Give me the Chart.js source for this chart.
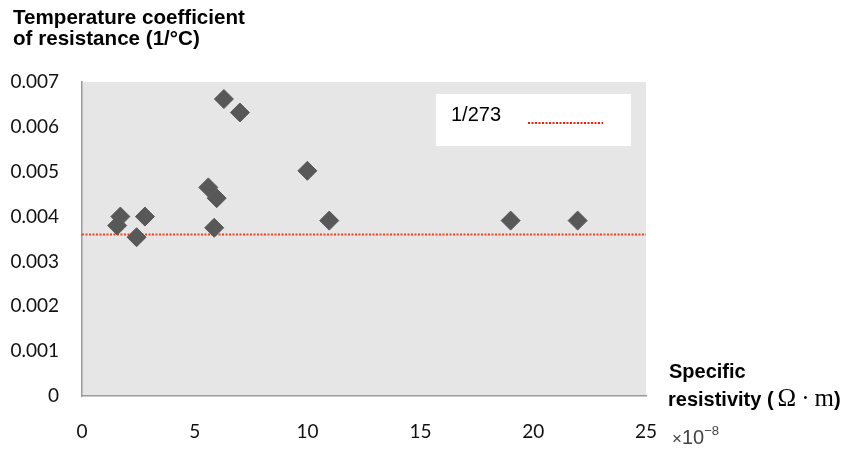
<!DOCTYPE html>
<html>
<head>
<meta charset="utf-8">
<script src="https://cdn.jsdelivr.net/npm/chart.js@4/dist/chart.umd.min.js"></script>
<style>
    body { margin: 0; background: #fff; }
    #wrap { position: relative; width: 855px; height: 450px; }
    .ttl { position: absolute; font-family: "Liberation Sans", Arial, sans-serif; font-weight: bold; font-size: 20px; color: #000; white-space: nowrap; }
    .serif { font-family: "Liberation Serif", "Times New Roman", serif; font-weight: normal; font-size: 25px; }
    #scale { position: absolute; left: 672px; top: 426px; line-height: 23px; font-family: "Liberation Sans", Arial, sans-serif; font-size: 20px; color: #444; white-space: nowrap; }
    #scale .x { font-size: 17px; }
    #scale .e { position: relative; top: -9px; font-size: 13px; }
</style>
</head>
<body>
<div id="wrap">
    <canvas id="chart" width="855" height="450"></canvas>
    <div class="ttl" style="left:13px; top:6px; line-height:21px; font-size:20.6px;">Temperature coefficient<br>of resistance (1/°C)</div>
    <div class="ttl" style="left:669px; top:360px;">Specific</div>
    <div class="ttl" style="left:668px; top:384px;">resistivity (&thinsp;<span class="serif">Ω&thinsp;·&thinsp;m</span>)</div>
    <div id="scale"><span class="x">×</span>10<span class="e">−8</span></div>
</div>
<script>
// values (x in 10^-8 Ω·m, y in 1/°C)
const resistivity = [1.56, 1.7, 2.42, 2.79, 5.6, 5.86, 5.97, 6.29, 7.0, 9.99, 10.96, 19.0, 21.97];
const coefficient = [0.0038, 0.0040, 0.00354, 0.0040, 0.00465, 0.00375, 0.00441, 0.00662, 0.00632, 0.00502, 0.00391, 0.00391, 0.00391];
const refLabel = '1/273';
const refValue = 0.0036;
const xRange = [0, 25];
const yTicks = [0, 0.001, 0.002, 0.003, 0.004, 0.005, 0.006, 0.007];

const points = resistivity.map((x, i) => ({ x: x, y: coefficient[i] }));

const plotBg = {
    id: 'plotBg',
    beforeDraw(chart) {
        const a = chart.chartArea, ctx = chart.ctx;
        ctx.save();
        ctx.fillStyle = '#e6e6e6';
        ctx.fillRect(a.left, a.top, a.right - a.left, a.bottom - a.top);
        ctx.restore();
    }
};

// legend box sitting inside the plot
const boxLegend = {
    id: 'boxLegend',
    afterDatasetsDraw(chart) {
        const ds = chart.data.datasets[1];
        const ctx = chart.ctx;
        ctx.save();
        ctx.fillStyle = '#fff';
        ctx.fillRect(436, 94, 195, 52);
        ctx.fillStyle = '#000';
        ctx.font = '20px "Liberation Sans", Arial, sans-serif';
        ctx.textBaseline = 'alphabetic';
        ctx.fillText(ds.label, 451, 121);
        ctx.strokeStyle = '#ff1a00';
        ctx.lineWidth = 2;
        ctx.setLineDash([2, 1.5]);
        ctx.beginPath();
        ctx.moveTo(528, 123);
        ctx.lineTo(603, 123);
        ctx.stroke();
        ctx.restore();
    }
};

new Chart(document.getElementById('chart'), {
    type: 'scatter',
    data: {
        datasets: [{
            label: 'metals',
            data: points,
            pointStyle: 'rectRot',
            pointRadius: 9.5,
            pointBackgroundColor: '#585858',
            pointBorderColor: '#585858',
            pointBorderWidth: 1
        }, {
            label: refLabel,
            type: 'line',
            data: [{ x: xRange[0], y: refValue }, { x: xRange[1], y: refValue }],
            borderColor: '#f2401a',
            borderWidth: 2,
            borderDash: [2, 1.5],
            pointRadius: 0,
            fill: false
        }]
    },
    options: {
        responsive: false,
        animation: false,
        layout: { padding: { top: 82, right: 209, left: 0, bottom: 0 } },
        plugins: { legend: { display: false }, tooltip: { enabled: false } },
        scales: {
            x: {
                type: 'linear',
                min: xRange[0],
                max: xRange[1],
                afterFit(scale) { scale.height = 54; },
                grid: { display: false, drawTicks: false },
                border: { display: true, color: '#9a9a9a', width: 1.5 },
                ticks: {
                    stepSize: 5,
                    padding: 24,
                    color: '#111',
                    font: { family: 'Lato', size: 19 }
                }
            },
            y: {
                min: yTicks[0],
                max: yTicks[yTicks.length - 1],
                afterFit(scale) { scale.width = 82; },
                afterBuildTicks(scale) { scale.ticks = yTicks.map(v => ({ value: v })); },
                grid: { display: false, drawTicks: false },
                border: { display: true, color: '#9a9a9a', width: 1.5 },
                ticks: {
                    padding: 23,
                    color: '#111',
                    font: { family: 'Lato', size: 19 },
                    callback: v => v === 0 ? '0' : v.toFixed(3)
                }
            }
        }
    },
    plugins: [plotBg, boxLegend]
});
</script>
</body>
</html>
